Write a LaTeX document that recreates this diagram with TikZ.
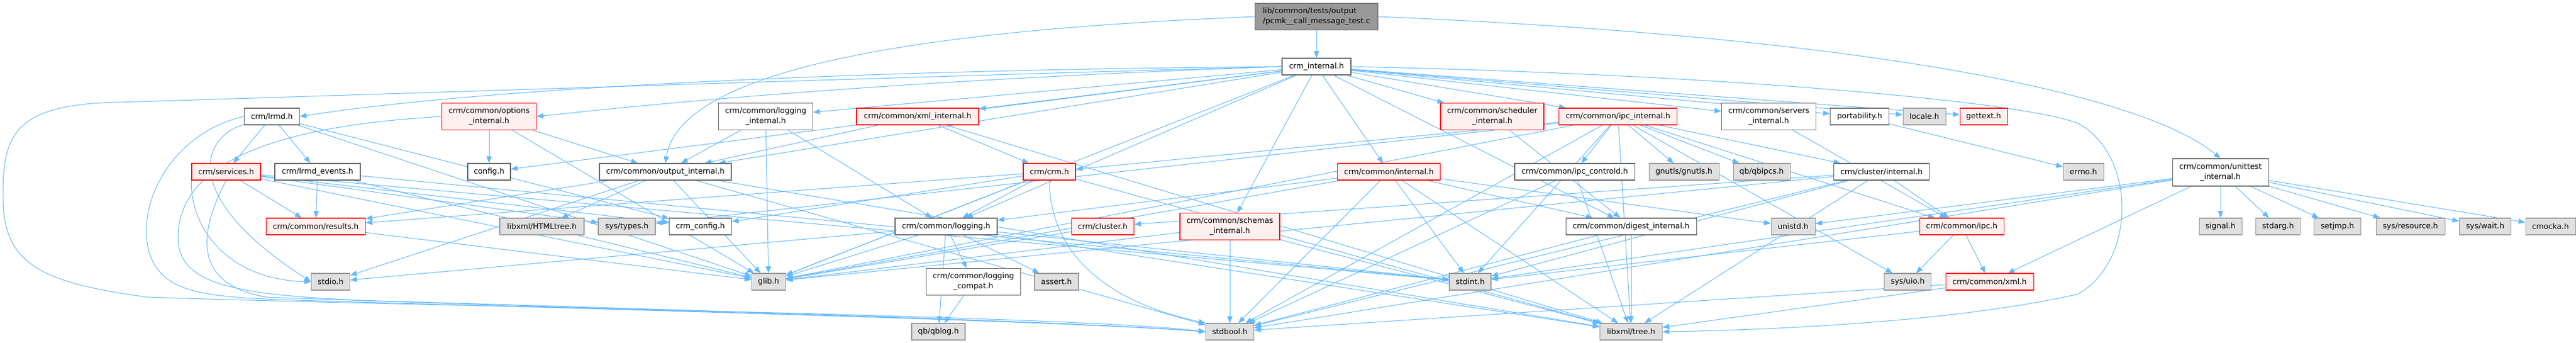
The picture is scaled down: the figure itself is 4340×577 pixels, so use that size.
\documentclass[tikz,border=0pt]{standalone}
\usepackage{fontspec}
\setmainfont{DejaVu Sans}
\usetikzlibrary{arrows.meta,backgrounds}
\definecolor{edgec}{HTML}{63B8FF}
\definecolor{bord}{HTML}{666666}
\definecolor{gbord}{HTML}{999999}
\definecolor{gfill}{HTML}{E0E0E0}
\definecolor{rfill}{HTML}{FFF0F0}
\definecolor{rootfill}{HTML}{999999}
\begin{document}
\begin{tikzpicture}[x=0.75pt,y=-0.75pt,
  nb/.style={draw, line width=0.8pt, inner sep=0pt, align=center, font=\fontsize{9.63}{12.75}\selectfont},
  wn/.style={nb, draw=bord, fill=white},
  rn/.style={nb, draw=red, fill=rfill},
  gn/.style={nb, draw=gbord, fill=gfill},
  rootn/.style={nb, draw=bord, fill=rootfill, align=left},
  sz/.style 2 args={minimum width=#1*0.75pt, minimum height=#2*0.75pt},
  edge/.style={draw=edgec, line width=0.75pt, -{Triangle[length=8.5pt,width=6.5pt]}}]
\useasboundingbox (0,0) rectangle (4340,577);
% row 0
\node[rootn,sz={207}{45}] (root) at (2218,28) {lib/common/tests/output\\/pcmk\_\_call\_message\_test.c};
% row 1
\node[wn,sz={116}{28}] (ci) at (2218,112) {crm\_internal.h};
% row 2
\node[wn,sz={93}{28}] (lrmd) at (458,196) {crm/lrmd.h};
\node[rn,sz={159}{45}] (opt) at (824,196) {crm/common/options\\\_internal.h};
\node[wn,sz={159}{45}] (logi) at (1290,196) {crm/common/logging\\\_internal.h};
\node[rn,sz={206}{28}] (xmli) at (1546,196) {crm/common/xml\_internal.h};
\node[rn,sz={174}{45}] (sched) at (2514,196) {crm/common/scheduler\\\_internal.h};
\node[rn,sz={199}{28}] (ipci) at (2726,196) {crm/common/ipc\_internal.h};
\node[wn,sz={159}{45}] (servi) at (2980,196) {crm/common/servers\\\_internal.h};
\node[wn,sz={99}{28}] (port) at (3133,196) {portability.h};
\node[gn,sz={72}{28}] (locale) at (3242,196) {locale.h};
\node[rn,sz={80}{28}] (gettext) at (3342,196) {gettext.h};
\node[wn,sz={162}{46}] (unit) at (3741,290) {crm/common/unittest\\\_internal.h};
% row 3
\node[rn,sz={116}{28}] (serv) at (381,289) {crm/services.h};
\node[wn,sz={144}{28}] (lrmde) at (535,289) {crm/lrmd\_events.h};
\node[wn,sz={72}{28}] (config) at (824,289) {config.h};
\node[wn,sz={222}{28}] (outi) at (1121,289) {crm/common/output\_internal.h};
\node[rn,sz={88}{28}] (crm) at (1768,289) {crm/crm.h};
\node[rn,sz={173}{28}] (inter) at (2340,289) {crm/common/internal.h};
\node[wn,sz={202}{28}] (ipcc) at (2653,289) {crm/common/ipc\_controld.h};
\node[gn,sz={118}{28}] (gnutls) at (2837,289) {gnutls/gnutls.h};
\node[gn,sz={96}{28}] (qbipcs) at (2968,289) {qb/qbipcs.h};
\node[wn,sz={161}{28}] (clusti) at (3170,289) {crm/cluster/internal.h};
\node[gn,sz={68}{28}] (errno) at (3510,289) {errno.h};
% row 4
\node[rn,sz={167}{28}] (results) at (532,381) {crm/common/results.h};
\node[gn,sz={142}{28}] (html) at (913,381) {libxml/HTMLtree.h};
\node[gn,sz={96}{28}] (systypes) at (1056,381) {sys/types.h};
\node[wn,sz={105}{28}] (crmconf) at (1180,381) {crm\_config.h};
\node[wn,sz={172}{28}] (logging) at (1594,381) {crm/common/logging.h};
\node[rn,sz={105}{28}] (cluster) at (1858,381) {crm/cluster.h};
\node[rn,sz={168}{45}] (schemas) at (2072,381) {crm/common/schemas\\\_internal.h};
\node[wn,sz={220}{28}] (digest) at (2748,381) {crm/common/digest\_internal.h};
\node[gn,sz={74}{28}] (unistd) at (3021,381) {unistd.h};
\node[rn,sz={142}{28}] (ipc) at (3305,381) {crm/common/ipc.h};
\node[gn,sz={72}{28}] (signal) at (3741,381) {signal.h};
\node[gn,sz={75}{28}] (stdarg) at (3838,381) {stdarg.h};
\node[gn,sz={79}{28}] (setjmp) at (3938,381) {setjmp.h};
\node[gn,sz={116}{28}] (sysres) at (4061,381) {sys/resource.h};
\node[gn,sz={87}{28}] (syswait) at (4187,381) {sys/wait.h};
\node[gn,sz={84}{28}] (cmocka) at (4297,381) {cmocka.h};
% row 5
\node[gn,sz={65}{28}] (stdio) at (557,474) {stdio.h};
\node[gn,sz={57}{28}] (glib) at (1295,474) {glib.h};
\node[wn,sz={159}{45}] (logcompat) at (1640,474) {crm/common/logging\\\_compat.h};
\node[gn,sz={74}{28}] (assert) at (1780,474) {assert.h};
\node[gn,sz={70}{28}] (stdint) at (2477,474) {stdint.h};
\node[gn,sz={79}{28}] (sysuio) at (3214,474) {sys/uio.h};
\node[rn,sz={148}{28}] (xml) at (3352,474) {crm/common/xml.h};
% row 6
\node[gn,sz={90}{28}] (qblog) at (1581,558) {qb/qblog.h};
\node[gn,sz={81}{28}] (stdbool) at (2072,558) {stdbool.h};
\node[gn,sz={105}{28}] (xmltree) at (2748,558) {libxml/tree.h};

\begin{pgfonlayer}{background}
\foreach \a/\b in {root/ci,
  ci/config, ci/outi, ci/logi, ci/xmli, ci/logging, ci/inter, ci/glib,
  ci/sched, ci/ipci, ci/servi, ci/port, ci/locale, ci/gettext, ci/schemas, ci/digest,
  lrmd/serv, lrmd/lrmde, lrmd/glib, lrmd/crmconf,
  serv/results, serv/glib, serv/systypes, serv/crmconf, serv/stdint,
  lrmde/results, lrmde/glib, lrmde/stdint,
  results/glib,
  opt/config, opt/outi, opt/glib,
  logi/outi, logi/glib, logi/logging,
  outi/html, outi/glib, outi/stdbool, outi/xmltree, outi/stdio, outi/results,
  xmli/crm, xmli/outi, xmli/xmltree,
  crm/logging, crm/glib, crm/xmltree, crm/crmconf, crm/results,
  logging/qblog, logging/logcompat, logging/assert, logging/glib, logging/stdio, logging/stdint, logging/xmltree,
  logcompat/qblog,
  cluster/glib,
  schemas/stdbool, schemas/xmltree, schemas/glib,
  inter/stdint, inter/xmltree, inter/glib, inter/stdbool, inter/unistd, inter/digest, inter/logging,
  sched/digest,
  ipci/ipcc, ipci/gnutls, ipci/qbipcs, ipci/ipc, ipci/glib, ipci/stdint, ipci/stdbool, ipci/xmltree,
  ipci/systypes, ipci/crm, ipci/sysuio, ipci/clusti,
  ipcc/stdbool, ipcc/xmltree,
  digest/stdbool, digest/xmltree,
  servi/ipc, port/errno,
  clusti/ipc, clusti/glib, clusti/stdint, clusti/stdbool, clusti/xmltree, clusti/cluster,
  ipc/sysuio, ipc/xml, ipc/stdint,
  xml/xmltree, xml/stdbool,
  unit/signal, unit/stdarg, unit/setjmp, unit/sysres, unit/syswait, unit/cmocka,
  unit/stdint, unit/unistd, unit/xml, unit/stdbool}
  \draw[edge] (\a) -- (\b);
% curved connectors
\draw[edge] (root.west) .. controls (1700,45) and (1150,90) .. (outi.north);
\draw[edge] (ci.west) .. controls (1400,118) and (800,150) .. (lrmd.east);
\draw[edge] (ci.west) .. controls (1500,135) and (1100,175) .. (opt.east);
\draw[edge] (root.east) .. controls (3100,60) and (3600,150) .. (unit.north);
\draw[edge] (ci.west) .. controls (1500,130) and (600,160) .. (200,172)
  .. controls (20,175) and (5,230) .. (5,330)
  .. controls (5,440) and (60,475) .. (250,500)
  .. controls (700,515) and (1800,530) .. (stdbool.west);
\draw[edge] (ci.east) .. controls (2900,125) and (3400,170) .. (3500,207)
  .. controls (3600,260) and (3600,440) .. (3500,495)
  .. controls (3300,540) and (3000,555) .. (xmltree.east);
\draw[edge] (lrmd.west) .. controls (300,220) and (230,330) .. (250,420)
  .. controls (270,490) and (330,500) .. (500,505)
  .. controls (1000,520) and (1800,540) .. (stdbool.west);
\draw[edge] (serv.south) .. controls (330,400) and (330,480) .. (450,500)
  .. controls (1000,520) and (1800,540) .. (stdbool.west);
\draw[edge] (opt.west) .. controls (500,210) and (300,260) .. (300,400)
  .. controls (300,480) and (400,495) .. (600,505)
  .. controls (1100,520) and (1800,540) .. (stdbool.west);
\draw[edge] (serv.south west) .. controls (320,380) and (380,470) .. (stdio.west);
\draw[edge] (lrmd) .. controls (340,230) and (300,330) .. (stdio.west);
\draw[edge] (crm.south) .. controls (1768,400) and (1830,500) .. (stdbool.north west);
\end{pgfonlayer}
\end{tikzpicture}
\end{document}
